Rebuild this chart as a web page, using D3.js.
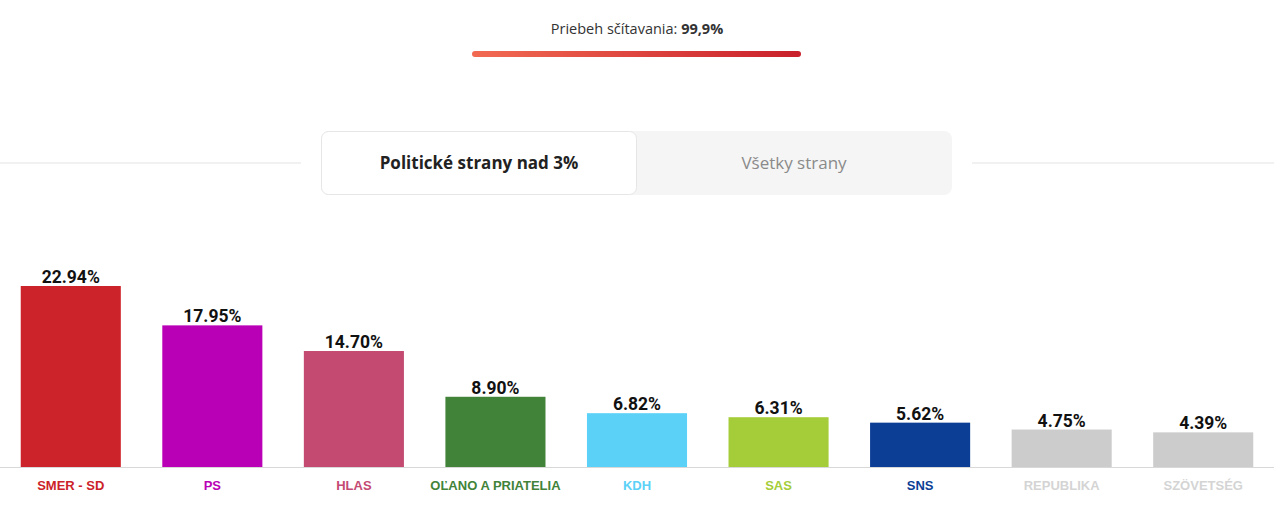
<!DOCTYPE html>
<html>
<head>
<meta charset="utf-8" />
<style>
body {
	margin:0;
	background:#fff;
	overflow:hidden;
}
.progress {
	font-family:"Open Sans", sans-serif;
	font-size:14.5px;
	fill:#333;
}
.tab {
	font-family:"Open Sans", sans-serif;
	font-size:17px;
}
.value {
	font-family:Roboto, Arial, sans-serif;
	font-weight:bold;
	font-size:17.5px;
	fill:#111;
}
.name {
	font-family:"Liberation Sans", Arial, sans-serif;
	font-weight:bold;
	font-size:13px;
}
</style>
</head>
<body>
<svg id="plansza" width="1280" height="514" xmlns="http://www.w3.org/2000/svg"></svg>
<script src="https://cdn.jsdelivr.net/npm/d3@7/dist/d3.min.js"></script>
<script>

var strany = ["SMER - SD","PS","HLAS","OĽANO A PRIATELIA","KDH","SAS","SNS","REPUBLIKA","SZÖVETSÉG"];
var vysledky = [22.94,17.95,14.70,8.90,6.82,6.31,5.62,4.75,4.39];
var farby = ["#cc2229","#b900b6","#c44a72","#418339","#5bd1f7","#a5cd39","#0c3e96","#cccccc","#cccccc"];
var farbyNazvov = ["#cc2229","#b900b6","#c44a72","#418339","#5bd1f7","#a5cd39","#0c3e96","#d4d4d4","#d4d4d4"];
var priebeh = "99,9%";
var taby = ["Politické strany nad 3%","Všetky strany"];

var svg = d3.select("#plansza");
var zaklad = 467;

// progress header
var defs = svg.append("defs");
var grad = defs.append("linearGradient").attr("id","prechod");
grad.append("stop").attr("offset","0%").attr("stop-color","#f26a52");
grad.append("stop").attr("offset","100%").attr("stop-color","#c9202b");

var t = svg.append("text").attr("class","progress")
	.attr("x",637).attr("y",34).attr("text-anchor","middle");
t.append("tspan").text("Priebeh sčítavania: ");
t.append("tspan").attr("font-weight","bold").text(priebeh);

svg.append("rect").attr("x",472).attr("y",51).attr("width",329).attr("height",6)
	.attr("rx",3).attr("fill","url(#prechod)");

// tabs
svg.append("line").attr("x1",0).attr("x2",301).attr("y1",163).attr("y2",163)
	.attr("stroke","#e3e3e3");
svg.append("line").attr("x1",972).attr("x2",1274).attr("y1",163).attr("y2",163)
	.attr("stroke","#e3e3e3");
svg.append("rect").attr("x",321).attr("y",131).attr("width",631).attr("height",64)
	.attr("rx",8).attr("fill","#f5f5f5");
svg.append("rect").attr("x",321.5).attr("y",131.5).attr("width",315).attr("height",63)
	.attr("rx",7).attr("fill","#fff").attr("stroke","#e6e6e6");
svg.append("text").attr("class","tab").attr("x",479).attr("y",169)
	.attr("text-anchor","middle").attr("font-weight","bold").attr("fill","#222")
	.text(taby[0]);
svg.append("text").attr("class","tab").attr("x",794).attr("y",169)
	.attr("text-anchor","middle").attr("fill","#8a8a8a")
	.text(taby[1]);

// bars
var x = d3.scaleBand().domain(strany).range([0,1274])
	.paddingInner(0.293).paddingOuter(0.1465);
var y = d3.scaleLinear().domain([0,22.94]).range([zaklad,286]);

var g = svg.append("g");

g.selectAll("rect.stlpec").data(strany).enter().append("rect")
	.attr("class","stlpec")
	.attr("x",function(d){ return x(d); })
	.attr("y",function(d,i){ return y(vysledky[i]); })
	.attr("width",x.bandwidth())
	.attr("height",function(d,i){ return zaklad - y(vysledky[i]); })
	.attr("fill",function(d,i){ return farby[i]; });

svg.append("line").attr("x1",0).attr("x2",1274).attr("y1",zaklad+0.5).attr("y2",zaklad+0.5)
	.attr("stroke","#d8d8d8");

g.selectAll("text.value").data(strany).enter().append("text")
	.attr("class","value")
	.attr("x",function(d){ return x(d) + x.bandwidth()/2; })
	.attr("y",function(d,i){ return y(vysledky[i]) - 3; })
	.attr("text-anchor","middle")
	.text(function(d,i){ return vysledky[i].toFixed(2) + "%"; });

g.selectAll("text.name").data(strany).enter().append("text")
	.attr("class","name")
	.attr("x",function(d){ return x(d) + x.bandwidth()/2; })
	.attr("y",490)
	.attr("text-anchor","middle")
	.attr("fill",function(d,i){ return farbyNazvov[i]; })
	.text(function(d){ return d; });

</script>
</body>
</html>
